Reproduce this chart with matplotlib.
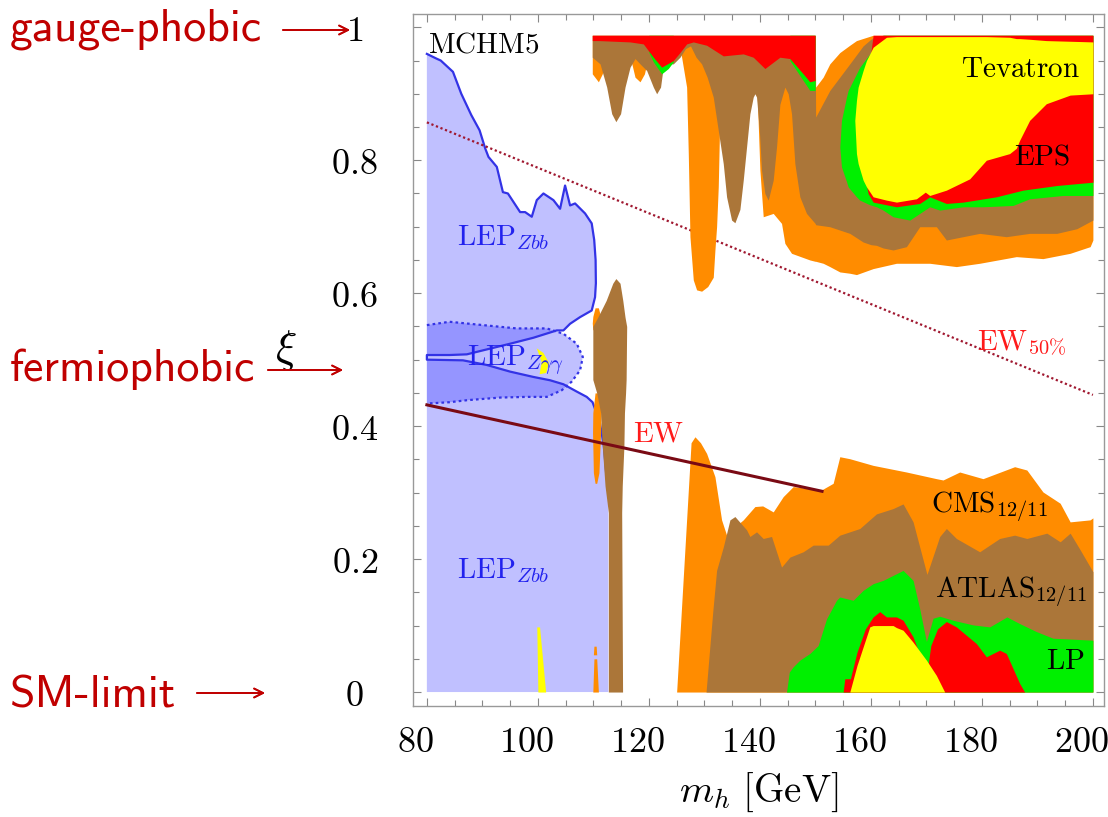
import matplotlib.pyplot as plt
from matplotlib.ticker import MultipleLocator
from matplotlib.transforms import ScaledTranslation

plt.rcParams['mathtext.fontset'] = 'cm'

# ticks
x_ticks = [80, 100, 120, 140, 160, 180, 200]
x_tick_labels = ['$80$', '$100$', '$120$', '$140$', '$160$', '$180$', '$200$']
y_ticks = [0, 0.2, 0.4, 0.6, 0.8, 1.0]
y_tick_labels = ['$0$', '$0.2$', '$0.4$', '$0.6$', '$0.8$', '$1$']

# LEP Zbb, upper piece (outline, m_h / xi)
lep_hi_m = [80.0, 81.7, 82.5, 84.7, 86.2, 88.0, 89.5, 90.5, 91.1, 92.6, 93.7, 94.6, 96.8, 97.7,
            98.9, 99.8, 101.0, 102.8, 104.0, 104.9, 105.8, 106.7, 108.5, 109.7, 110.15, 110.4,
            110.45, 110.3, 109.7, 107.6, 105.8, 104.6, 103.4, 99.2, 95.0, 90.1, 87.2, 84.1, 80.0]
lep_hi_xi = [0.960, 0.953, 0.950, 0.933, 0.900, 0.868, 0.845, 0.818, 0.805, 0.790, 0.752, 0.750,
             0.722, 0.722, 0.715, 0.740, 0.750, 0.740, 0.727, 0.762, 0.732, 0.735, 0.720, 0.705,
             0.680, 0.650, 0.615, 0.594, 0.574, 0.564, 0.554, 0.544, 0.544, 0.533, 0.524, 0.514,
             0.508, 0.507, 0.507]
# LEP Zbb, lower piece
lep_lo_m = [80.0, 86.5, 90.8, 95.0, 99.2, 102.2, 104.6, 107.0, 108.8, 109.85, 110.6, 111.2,
            111.9, 112.3, 112.7, 112.7, 80.0]
lep_lo_xi = [0.500, 0.499, 0.492, 0.482, 0.474, 0.469, 0.463, 0.452, 0.444, 0.436, 0.419, 0.404,
             0.369, 0.33, 0.28, 0.0, 0.0]
# LEP Z gamma gamma (dotted)
zgg_m = [80.0, 84.1, 90.1, 96.2, 101.6, 104.6, 107.0, 108.1, 107.6, 106.1, 104.3, 101.6, 98.0,
         93.2, 87.2, 84.1, 80.0]
zgg_xi = [0.552, 0.557, 0.552, 0.547, 0.547, 0.539, 0.524, 0.504, 0.484, 0.467, 0.454, 0.444,
          0.444, 0.443, 0.439, 0.436, 0.434]
zgg_yel_m = [99.8, 101.0, 102.0, 101.5, 100.3, 100.7]
zgg_yel_xi = [0.517, 0.510, 0.495, 0.480, 0.478, 0.496]

# EW fits
ew_m = [80.0, 151.2]
ew_xi = [0.432, 0.302]
ew50_m = [80.0, 200.0]
ew50_xi = [0.857, 0.447]

# ---- upper region (large xi) ----
ou_m = [109.8, 110.9, 111.6, 112.5, 116.5, 117.5, 118.4, 119.2, 120.0, 124.5, 125.6, 126.8, 127.1,
        127.4, 128.0, 128.6, 129.5, 130.6, 131.6, 131.9, 132.2, 132.5, 133.0, 139.3, 140.0, 140.6,
        142.4, 143.9, 144.5, 145.7, 149.0, 149.95, 150.05, 151.4, 152.6, 154.4, 156.2, 157.4,
        160.4, 164.6, 170.6, 175.4, 179.6, 186.2, 191.0, 195.9, 199.5, 200.0]
ou_lo = [0.930, 0.918, 0.930, 0.960, 0.960, 0.925, 0.918, 0.930, 0.960, 0.965, 0.970, 0.910, 0.810,
         0.685, 0.620, 0.605, 0.603, 0.610, 0.624, 0.665, 0.700, 0.760, 0.950, 0.950, 0.785, 0.715,
         0.720, 0.705, 0.675, 0.660, 0.650, 0.648, 0.648, 0.645, 0.640, 0.632, 0.630, 0.628,
         0.637, 0.645, 0.645, 0.640, 0.645, 0.655, 0.652, 0.660, 0.670, 0.680]
ou_hi = [0.988] * 32 + [0.910, 0.925, 0.945, 0.962, 0.973, 0.980] + [0.988] * 10

bu_m = [109.8, 111.2, 112.4, 113.3, 114.05, 114.9, 115.7, 116.6, 117.5, 118.4, 119.6, 120.8, 121.4,
        122.1, 122.5, 123.2, 124.4, 125.6, 126.6, 127.5, 128.5, 129.5, 130.5, 131.6, 132.5, 133.4,
        134.0, 134.9, 135.5, 136.4, 137.0, 137.6, 138.2, 138.8, 139.1, 139.4, 139.9, 140.3, 140.9,
        141.5, 142.4, 143.0, 143.6, 144.5, 145.1, 145.7, 146.3, 147.2, 148.4, 149.95, 150.05,
        152.6, 156.2, 158.6, 160.0, 161.0, 162.2, 164.0, 166.4, 168.8, 170.0, 171.8, 173.6, 176.6,
        179.6, 184.4, 188.6, 193.5, 197.1, 200.0]
bu_lo = [0.955, 0.945, 0.910, 0.870, 0.858, 0.870, 0.910, 0.940, 0.953, 0.945, 0.935, 0.910, 0.900,
         0.910, 0.935, 0.945, 0.945, 0.955, 0.968, 0.972, 0.955, 0.945, 0.925, 0.895, 0.845, 0.795,
         0.745, 0.710, 0.706, 0.726, 0.770, 0.820, 0.870, 0.895, 0.900, 0.895, 0.845, 0.785, 0.750,
         0.740, 0.770, 0.820, 0.884, 0.910, 0.900, 0.870, 0.795, 0.745, 0.720, 0.705, 0.703,
         0.700, 0.690, 0.677, 0.673, 0.672, 0.668, 0.665, 0.670, 0.700, 0.700, 0.700, 0.680, 0.685,
         0.690, 0.685, 0.690, 0.690, 0.697, 0.710]
bu_hi = [0.988] * 50 + [0.865, 0.905, 0.945, 0.972, 0.982, 0.986] + [0.988] * 14

gu_m = [154.4, 154.7, 155.6, 155.9, 157.4, 158.0, 159.8, 161.0, 162.2, 164.0, 167.0, 168.8, 170.6,
        172.4, 176.6, 180.2, 185.6, 188.6, 194.6, 200.0]
gu_lo = [0.820, 0.790, 0.768, 0.760, 0.745, 0.740, 0.733, 0.730, 0.725, 0.715, 0.710, 0.720, 0.730,
         0.725, 0.730, 0.730, 0.732, 0.742, 0.747, 0.747]
gu_hi = [0.820, 0.860, 0.895, 0.905, 0.930, 0.940, 0.960, 0.975] + [0.988] * 12
g1_m = [120.0, 120.8, 122.3, 123.5, 124.4]
g1_lo = [0.962, 0.948, 0.930, 0.938, 0.948]
g2_m = [145.4, 147.8, 149.0, 149.95]
g2_lo = [0.950, 0.920, 0.905, 0.905]

rs_m = [109.8, 111.0, 116.6, 119.0, 120.8, 122.3, 124.4, 125.6, 126.8, 128.0, 130.4, 133.4, 137.0,
        138.8, 140.9, 143.6, 145.4, 147.8, 149.0, 149.95]
rs_lo = [0.980, 0.980, 0.978, 0.975, 0.955, 0.940, 0.950, 0.962, 0.975, 0.978, 0.973, 0.957, 0.960,
         0.955, 0.938, 0.955, 0.953, 0.930, 0.918, 0.920]
ru_m = [158.5, 159.5, 160.4, 164.6, 168.8, 170.6, 173.6, 176.6, 182.6, 187.4, 193.5, 200.0]
ru_lo = [0.790, 0.750, 0.737, 0.730, 0.735, 0.745, 0.735, 0.737, 0.745, 0.755, 0.762, 0.767]
ru_hi = [0.790, 0.930] + [0.988] * 10

yu_m = [157.1, 157.4, 157.7, 158.6, 159.2, 160.4, 162.8, 164.6, 168.2, 169.8, 170.6, 173.6, 177.8,
        180.8, 185.0, 186.2, 186.8, 188.6, 191.6, 195.9, 200.0]
yu_lo = [0.860, 0.810, 0.795, 0.770, 0.760, 0.745, 0.740, 0.737, 0.742, 0.752, 0.747, 0.755, 0.772,
         0.800, 0.810, 0.818, 0.830, 0.860, 0.885, 0.898, 0.900]
yu_hi = [0.860, 0.890, 0.910, 0.935, 0.950, 0.970, 0.985, 0.986, 0.986, 0.986, 0.986, 0.986, 0.986,
         0.986, 0.985, 0.983, 0.983, 0.982, 0.980, 0.979, 0.978]

# ---- lower region (small xi) ----
ol_m = [125.0, 127.6, 128.3, 129.3, 130.4, 131.9, 133.1, 134.0, 135.0, 137.0, 139.1, 140.5, 142.4,
        144.2, 146.0, 151.1, 153.2, 154.4, 156.2, 160.4, 166.4, 171.8, 173.0, 176.0, 180.2, 185.9,
        188.1, 191.0, 194.1, 195.9, 199.5, 200.0]
ol_hi = [0.0, 0.375, 0.384, 0.375, 0.359, 0.324, 0.259, 0.236, 0.245, 0.259, 0.279, 0.280, 0.271,
         0.294, 0.309, 0.304, 0.314, 0.354, 0.351, 0.341, 0.331, 0.321, 0.319, 0.331, 0.321, 0.339,
         0.334, 0.301, 0.284, 0.256, 0.259, 0.262]
bl_m = [130.3, 131.5, 132.2, 133.4, 134.6, 135.5, 137.6, 138.2, 139.4, 140.6, 142.1, 143.9, 145.4,
        147.8, 149.6, 152.3, 154.4, 158.0, 161.0, 164.0, 165.8, 167.6, 170.1, 172.4, 173.6, 175.4,
        179.6, 183.2, 185.9, 188.1, 191.7, 194.1, 195.9, 197.7, 200.0]
bl_hi = [0.0, 0.120, 0.183, 0.218, 0.259, 0.264, 0.244, 0.234, 0.241, 0.231, 0.234, 0.188, 0.203,
         0.211, 0.221, 0.221, 0.236, 0.246, 0.268, 0.276, 0.283, 0.256, 0.177, 0.234, 0.246, 0.231,
         0.211, 0.231, 0.236, 0.231, 0.239, 0.226, 0.239, 0.214, 0.181]
gl_m = [144.8, 145.3, 146.0, 147.2, 149.0, 150.5, 152.0, 153.8, 154.4, 156.8, 158.6, 160.4, 162.2,
        163.4, 164.6, 165.8, 167.6, 168.8, 170.0, 171.2, 172.4, 174.8, 178.4, 181.4, 184.5, 186.8,
        189.8, 192.8, 200.0]
gl_hi = [0.0, 0.030, 0.038, 0.048, 0.058, 0.070, 0.110, 0.138, 0.143, 0.138, 0.153, 0.163, 0.168,
         0.173, 0.178, 0.183, 0.168, 0.125, 0.076, 0.111, 0.114, 0.108, 0.101, 0.098, 0.113, 0.103,
         0.091, 0.081, 0.078]
rl_m = [155.0, 155.3, 156.3, 157.5, 159.0, 160.4, 161.6, 162.8, 164.6, 165.8, 167.6, 169.3, 170.2,
        170.8, 172.0, 173.6, 175.4, 179.0, 180.8, 183.2, 184.4, 186.8, 187.7]
rl_hi = [0.0, 0.020, 0.020, 0.060, 0.095, 0.113, 0.121, 0.113, 0.113, 0.108, 0.083, 0.045, 0.035,
         0.070, 0.095, 0.106, 0.098, 0.073, 0.053, 0.063, 0.058, 0.013, 0.0]
yl_m = [156.2, 157.5, 159.8, 160.4, 164.0, 164.6, 165.8, 167.6, 170.0, 171.8, 173.3]
yl_hi = [0.0, 0.040, 0.098, 0.100, 0.100, 0.097, 0.093, 0.075, 0.048, 0.025, 0.0]

# narrow vertical pieces near m_h ~ 100-116 (xi, left m_h, right m_h)
spike_xi = [0.0, 0.27, 0.31, 0.37, 0.42, 0.45, 0.47, 0.55, 0.564, 0.589, 0.615, 0.622]
spike_l = [112.7, 112.7, 112.1, 111.6, 111.3, 110.6, 109.9, 109.9, 110.8, 112.3, 113.5, 114.05]
spike_r = [115.26, 115.1, 115.2, 115.5, 115.6, 115.8, 115.9, 116.0, 115.7, 115.3, 114.8, 114.05]
sl_a_xi = [0.545, 0.555, 0.565, 0.578]
sl_a_l = [109.9, 109.8, 109.9, 110.3]
sl_a_r = [110.6, 111.0, 111.3, 110.9]
sl_b_xi = [0.314, 0.33, 0.39, 0.42, 0.45]
sl_b_l = [110.3, 110.0, 109.85, 109.9, 110.3]
sl_b_r = [110.6, 111.0, 111.3, 111.4, 111.2]
sl_c_xi = [0.0, 0.05]
sl_c_l = [109.9, 110.1]
sl_c_r = [110.9, 110.6]
sl_d_xi = [0.056, 0.069]
sl_d_l = [110.0, 110.1]
sl_d_r = [110.6, 110.5]
ysp_xi = [0.0, 0.098]
ysp_l = [100.0, 99.8]
ysp_r = [101.4, 100.3]

ORANGE = '#ff8c00'
BROWN = '#ab7639'
GREEN = '#00f000'
RED = '#ff0000'
YELLOW = '#ffff00'
LAV = (0.25, 0.25, 1.0)
DARKRED = '#c00000'

fig = plt.figure(figsize=(11.08, 8.17), dpi=100)
ax = fig.add_axes([413 / 1108, 1 - 706 / 817, 691 / 1108, 692 / 817])

# LEP regions
ax.fill(lep_hi_m, lep_hi_xi, color=LAV, alpha=0.33, lw=0, zorder=1)
ax.fill(lep_lo_m, lep_lo_xi, color=LAV, alpha=0.33, lw=0, zorder=1)
ax.fill(zgg_m, zgg_xi, color=LAV, alpha=0.33, lw=0, zorder=1)
ax.plot(lep_hi_m + lep_lo_m[:14], lep_hi_xi + lep_lo_xi[:14], color='#3333e6', lw=1.6, zorder=2)
ax.plot(zgg_m, zgg_xi, color='#3333e6', lw=1.6, ls=(0, (1.2, 1.4)), zorder=2)
ax.fill(zgg_yel_m, zgg_yel_xi, color=YELLOW, lw=0, zorder=2)

ax.plot(ew50_m, ew50_xi, color='#a01830', lw=1.6, ls=(0, (1.0, 1.2)), zorder=2.5)

# orange (CMS)
ax.fill_between(ou_m, ou_lo, ou_hi, color=ORANGE, lw=0, zorder=3)
ax.fill_between(ol_m, 0, ol_hi, color=ORANGE, lw=0, zorder=3)
for xi, l, r in [(sl_a_xi, sl_a_l, sl_a_r), (sl_b_xi, sl_b_l, sl_b_r),
                 (sl_c_xi, sl_c_l, sl_c_r), (sl_d_xi, sl_d_l, sl_d_r)]:
    ax.fill_betweenx(xi, l, r, color=ORANGE, lw=0, zorder=3)
# brown (ATLAS)
ax.fill_between(bu_m, bu_lo, bu_hi, color=BROWN, lw=0, zorder=3.1)
ax.fill_between(bl_m, 0, bl_hi, color=BROWN, lw=0, zorder=3.1)
ax.fill_betweenx(spike_xi, spike_l, spike_r, color=BROWN, lw=0, zorder=3.1)
# green (LP)
ax.fill_between(gu_m, gu_lo, gu_hi, color=GREEN, lw=0, zorder=3.2)
ax.fill_between(g1_m, g1_lo, 0.988, color=GREEN, lw=0, zorder=3.2)
ax.fill_between(g2_m, g2_lo, 0.988, color=GREEN, lw=0, zorder=3.2)
ax.fill_between(gl_m, 0, gl_hi, color=GREEN, lw=0, zorder=3.2)
# red (EPS)
ax.fill_between(rs_m, rs_lo, 0.988, color=RED, lw=0, zorder=3.3)
ax.fill_between(ru_m, ru_lo, ru_hi, color=RED, lw=0, zorder=3.3)
ax.fill_between(rl_m, 0, rl_hi, color=RED, lw=0, zorder=3.3)
# yellow (Tevatron)
ax.fill_between(yu_m, yu_lo, yu_hi, color=YELLOW, lw=0, zorder=3.4)
ax.fill_between(yl_m, 0, yl_hi, color=YELLOW, lw=0, zorder=3.4)
ax.fill_betweenx(ysp_xi, ysp_l, ysp_r, color=YELLOW, lw=0, zorder=3.4)

ax.plot(ew_m, ew_xi, color='#7a0a14', lw=2.2, zorder=4)

# labels inside the plot
fs = 21
blue_txt = '#2222ee'
red_txt = '#ff1a1a'
ax.text(90.3, 0.974, r'$\mathrm{MCHM5}$', fontsize=fs, ha='center', va='center', zorder=5)
ax.text(93.7, 0.684, r'$\mathrm{LEP}_{Zbb}$', fontsize=fs, color=blue_txt, ha='center', va='center', zorder=5)
ax.text(95.9, 0.498, r'$\mathrm{LEP}_{Z\gamma\gamma}$', fontsize=fs, color=blue_txt, ha='center', va='center', zorder=5)
ax.text(93.7, 0.183, r'$\mathrm{LEP}_{Zbb}$', fontsize=fs, color=blue_txt, ha='center', va='center', zorder=5)
ax.text(121.8, 0.389, r'$\mathrm{EW}$', fontsize=fs, color=red_txt, ha='center', va='center', zorder=5)
ax.text(187.2, 0.525, r'$\mathrm{EW}_{50\%}$', fontsize=fs, color=red_txt, ha='center', va='center', zorder=5)
ax.text(187.0, 0.938, r'$\mathrm{Tevatron}$', fontsize=fs, ha='center', va='center', zorder=5)
ax.text(190.8, 0.805, r'$\mathrm{EPS}$', fontsize=fs, ha='center', va='center', zorder=5)
ax.text(181.3, 0.278, r'$\mathrm{CMS}_{12/11}$', fontsize=fs, ha='center', va='center', zorder=5)
ax.text(185.2, 0.150, r'$\mathrm{ATLAS}_{12/11}$', fontsize=fs, ha='center', va='center', zorder=5)
ax.text(195.0, 0.047, r'$\mathrm{LP}$', fontsize=fs, ha='center', va='center', zorder=5)

ax.set_xlim(77.5, 202.0)
ax.set_ylim(-0.021, 1.02)
ax.set_xticks(x_ticks)
ax.set_xticklabels(x_tick_labels, fontsize=26)
ax.set_yticks(y_ticks)
ax.set_yticklabels(y_tick_labels, fontsize=26, ha='center')
ax.xaxis.set_minor_locator(MultipleLocator(5))
ax.yaxis.set_minor_locator(MultipleLocator(0.05))
ax.tick_params(which='both', direction='in', top=True, right=True, color='#888888', width=0.8)
ax.tick_params(which='major', length=6)
ax.tick_params(which='minor', length=4)
ax.tick_params(axis='x', pad=14)
ax.tick_params(axis='y', pad=42)
for lab in ax.get_xticklabels():
    lab.set_transform(lab.get_transform() + ScaledTranslation(-0.12, 0, fig.dpi_scale_trans))
for sp in ax.spines.values():
    sp.set_color('#999999')
    sp.set_linewidth(1.0)

ax.set_xlabel(r'$m_h\ [\mathrm{GeV}]$', fontsize=28, labelpad=8)
ax.text(-0.184, 0.515, r'$\xi$', fontsize=32, transform=ax.transAxes, ha='center', va='center')

# side annotations
side = dict(fontfamily='cmss10', fontsize=33, color=DARKRED, ha='left', va='baseline')
fig.text(10 / 1108, 1 - 40 / 817, 'gauge-phobic', **side)
fig.text(10 / 1108, 1 - 381 / 817, 'fermiophobic', **side)
fig.text(10 / 1108, 1 - 707 / 817, 'SM-limit', **side)
arrows = [(283, 350, 30), (268, 343, 370), (197, 265, 693)]
for x0, x1, y in arrows:
    fig.add_artist(plt.annotate('', xy=(x1 / 1108, 1 - y / 817), xytext=(x0 / 1108, 1 - y / 817),
                                xycoords='figure fraction',
                                arrowprops=dict(arrowstyle='->', color=DARKRED, lw=1.3,
                                                mutation_scale=16, shrinkA=0, shrinkB=0)))

fig.savefig('out.png', dpi=100)
